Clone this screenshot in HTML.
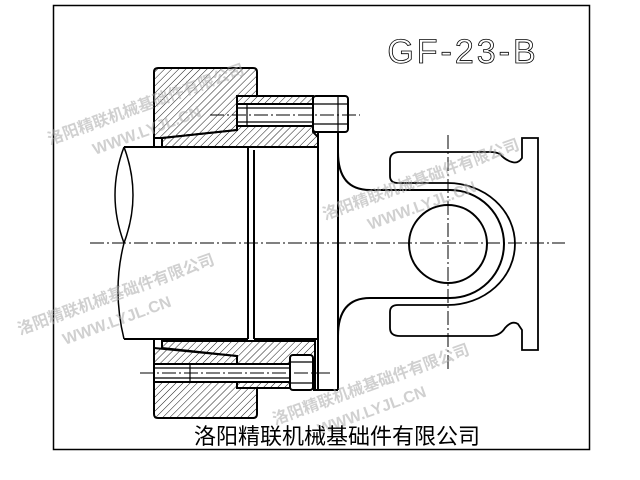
<!DOCTYPE html>
<html><head><meta charset="utf-8"><style>
html,body{margin:0;padding:0;background:#fff;width:640px;height:480px;overflow:hidden}
svg{display:block}
</style></head><body>
<svg width="640" height="480" viewBox="0 0 640 480" xmlns="http://www.w3.org/2000/svg">
<defs>
<pattern id="h" width="5" height="5" patternUnits="userSpaceOnUse" patternTransform="rotate(45)">
<line x1="0" y1="0" x2="0" y2="5" stroke="#000" stroke-width="0.9"/>
</pattern>
</defs>
<rect x="53.5" y="5.5" width="536" height="444" fill="none" stroke="#000" stroke-width="1.5"/>
<text x="463" y="63" font-family="Liberation Sans, sans-serif" font-size="34" font-weight="100" text-anchor="middle" fill="none" stroke="#000" stroke-width="0.8" letter-spacing="3">GF-23-B</text>

<g stroke="#000" stroke-width="2" fill="none">
<path d="M124,147 L248,147 M124,339 L248,339 M248,147 L248,339 M254,150 L254,339"/>
<path d="M124,147 Q106,195 124,243 Q142,195 124,147" stroke-width="1.5"/>
<path d="M124,243 Q112,290 124,339" stroke-width="1.5"/>
<path d="M254,147 L318,147 M254,339 L318,339"/>
<path d="M154,72 Q154,68 158,68 L253,68 Q257,68 257,72 L257,96 L237,96 L237,130 L162,138 L154,138 Z" fill="url(#h)"/>
<path d="M162,138 L237,130 L237,96 L313,96 L313,132 L318,137 L318,147 L162,147 Z" fill="url(#h)"/>
<path d="M154,138 L154,147 M162,138 L162,147"/>
<rect x="237" y="104" width="76" height="22" fill="#fff"/>
<path d="M247,104 L247,126 M237,108 L313,108 M237,122 L313,122" stroke-width="1.2"/>
<rect x="313" y="96" width="35" height="36" rx="3" fill="#fff"/>
<path d="M313,104 L348,104 M313,124 L348,124 M338,96 L338,132" stroke-width="1.2"/>
<path d="M162,341 L315,341 L315,388 L237,388 L237,356 L162,348 Z" fill="url(#h)"/>
<path d="M154,348 L237,356 L237,388 L257,388 L257,414 Q257,418 253,418 L158,418 Q154,418 154,414 Z" fill="url(#h)"/>
<path d="M154,339 L154,348 M162,339 L162,348"/>
<rect x="154" y="364" width="136" height="18" fill="#fff"/>
<path d="M190,364 L190,382 M154,368 L290,368 M154,378 L290,378" stroke-width="1.2"/>
<rect x="290" y="355" width="23" height="35" rx="3" fill="#fff"/>
<path d="M290,362 L313,362 M290,383 L313,383" stroke-width="1.2"/>
<path d="M318,132 L318,390 M338,132 L338,390 M313,132 L338,132 M313,390 L338,390"/>
<!-- neck + inner arc -->
<path d="M338,152 Q338,190 370,190 L450,190 A54,54 0 0 1 450,298 L370,298 Q338,298 338,336"/>
<circle cx="448" cy="244" r="39"/>
<!-- outer fork outline -->
<path d="M400,152 Q390,152 390,160 L390,176 Q390,183 398,183 L448,183 A67,61 0 0 1 448,305 L398,305 Q390,305 390,312 L390,328 Q390,336 400,336 L490,336 Q500,336 505,328 Q512,320 518,324 L522,330 L522,350 L538,350 L538,138 L522,138 L522,158 Q518,164 512,162 Q505,160 500,154 Q496,152 490,152 Z" stroke-width="1.8"/>
</g>
<g stroke="#000" stroke-width="1" stroke-dasharray="14,3,2,3" fill="none">
<line x1="90" y1="243" x2="565" y2="243"/>
<line x1="448" y1="135" x2="448" y2="370"/>
<line x1="210" y1="115" x2="360" y2="115"/>
<line x1="140" y1="373" x2="330" y2="373"/>
</g>
<g font-family="Liberation Sans, Noto Sans CJK SC, sans-serif" font-weight="bold" fill="#aaa" opacity="0.55" font-size="16">
<text transform="translate(50,145) rotate(-20)">洛阳精联机械基础件有限公司</text>
<text transform="translate(95,155) rotate(-20)">WWW.LYJL.CN</text>
<text transform="translate(325,220) rotate(-20)">洛阳精联机械基础件有限公司</text>
<text transform="translate(370,230) rotate(-20)">WWW.LYJL.CN</text>
<text transform="translate(20,335) rotate(-20)">洛阳精联机械基础件有限公司</text>
<text transform="translate(65,345) rotate(-20)">WWW.LYJL.CN</text>
<text transform="translate(275,425) rotate(-20)">洛阳精联机械基础件有限公司</text>
<text transform="translate(320,435) rotate(-20)">WWW.LYJL.CN</text>
</g>
<text x="337" y="444" font-family="Liberation Sans, Noto Sans CJK SC, sans-serif" font-size="22" text-anchor="middle" fill="#000">洛阳精联机械基础件有限公司</text>
</svg>
</body></html>
